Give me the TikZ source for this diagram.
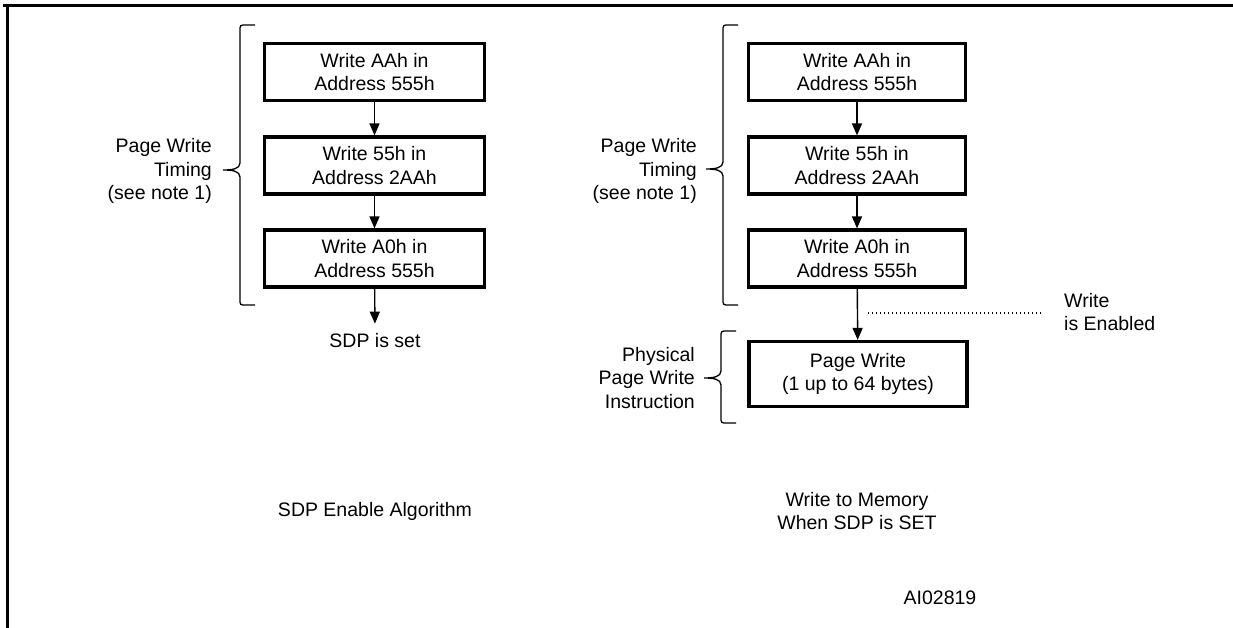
\documentclass[tikz,border=0pt]{standalone}
\usepackage{fontspec}
\setmainfont{Liberation Sans}
\usetikzlibrary{arrows.meta}
% side brace: line x, top y, middle y, bottom y
\newcommand{\sidebrace}[4]{ \draw[bracel] ({#1+15},{#2}) -- ({#1+6},{#2}) .. controls ({#1},{#2}) .. ({#1},{#2+6}) -- ({#1},{#3-7}) .. controls ({#1},{#3-1}) and ({#1-8},{#3}) .. ({#1-17},{#3}) .. controls ({#1-8},{#3}) and ({#1},{#3+1}) .. ({#1},{#3+7}) -- ({#1},{#4-6}) .. controls ({#1},{#4}) .. ({#1+6},{#4}) -- ({#1+15},{#4});}
\tikzset{
  stepbox/.style={draw, line width=3.2pt, minimum height=57pt, align=center, inner sep=0pt},
  flowarr/.style={line width=1.4pt, -{Triangle[width=10pt,length=12pt]}},
  bracel/.style={line width=1.3pt},
  sidelbl/.style={align=right, anchor=east, inner sep=0pt},
}

\begin{document}
\begin{tikzpicture}[x=1pt, y=-1pt, font=\fontsize{19.5}{23.5}\selectfont]
        \useasboundingbox (0,0) rectangle (1233,628);
        % frame
        \draw[line width=2.5pt] (3,5.5) -- (1233,5.5);
        \draw[line width=3pt] (7.5,4.5) -- (7.5,628);

        % left: sdp enable
        \node[stepbox, minimum width=220pt] (la) at (374.5,72) {Write AAh in\\Address 555h};
        \node[stepbox, minimum width=220pt] (lb) at (374.5,165.5) {Write 55h in\\Address 2AAh};
        \node[stepbox, minimum width=220pt] (lc) at (374.5,258.5) {Write A0h in\\Address 555h};
        \node[inner sep=0pt] (sdpset) at (375,341) {SDP is set};
        \draw[flowarr] (la) -- (lb);
        \draw[flowarr] (lb) -- (lc);
        \draw[flowarr, shorten >=10pt] (lc) -- (sdpset);
        \sidebrace{240}{25}{170}{305}
        \node[sidelbl] (ltiming) at (212,171) {Page Write\\Timing\\(see note 1)};
        \node (lname) at (375,511) {SDP Enable Algorithm};

        % right: write to memory
        \node[stepbox, minimum width=217pt] (ra) at (857,72) {Write AAh in\\Address 555h};
        \node[stepbox, minimum width=217pt] (rb) at (857,165.5) {Write 55h in\\Address 2AAh};
        \node[stepbox, minimum width=217pt] (rc) at (857,258.5) {Write A0h in\\Address 555h};
        \node[stepbox, minimum width=218pt, minimum height=65pt] (rd) at (858,374) {Page Write\\(1 up to 64 bytes)};
        \draw[flowarr] (ra) -- (rb);
        \draw[flowarr] (rb) -- (rc);
        \draw[flowarr] (rc) -- (rd);
        \sidebrace{723}{25}{169}{305}
        \node[sidelbl] (rtiming) at (697,171) {Page Write\\Timing\\(see note 1)};
        \sidebrace{721}{331}{378}{423}
        \node[sidelbl] (rphys) at (695,378) {Physical\\Page Write\\Instruction};
        \node[align=left, anchor=west, inner sep=0pt] (wen) at (1064,312) {Write\\is Enabled};
        \coordinate (dotstart) at (868,313);
        \draw[line width=1.4pt, dash pattern=on 1.2pt off 2.8pt, shorten >=21pt] (dotstart) -- (wen.west |- dotstart);
        \node[align=center] (rname) at (857,511) {Write to Memory\\When SDP is SET};

        \node (figid) at (940,598) {AI02819};
    \end{tikzpicture}
\end{document}
